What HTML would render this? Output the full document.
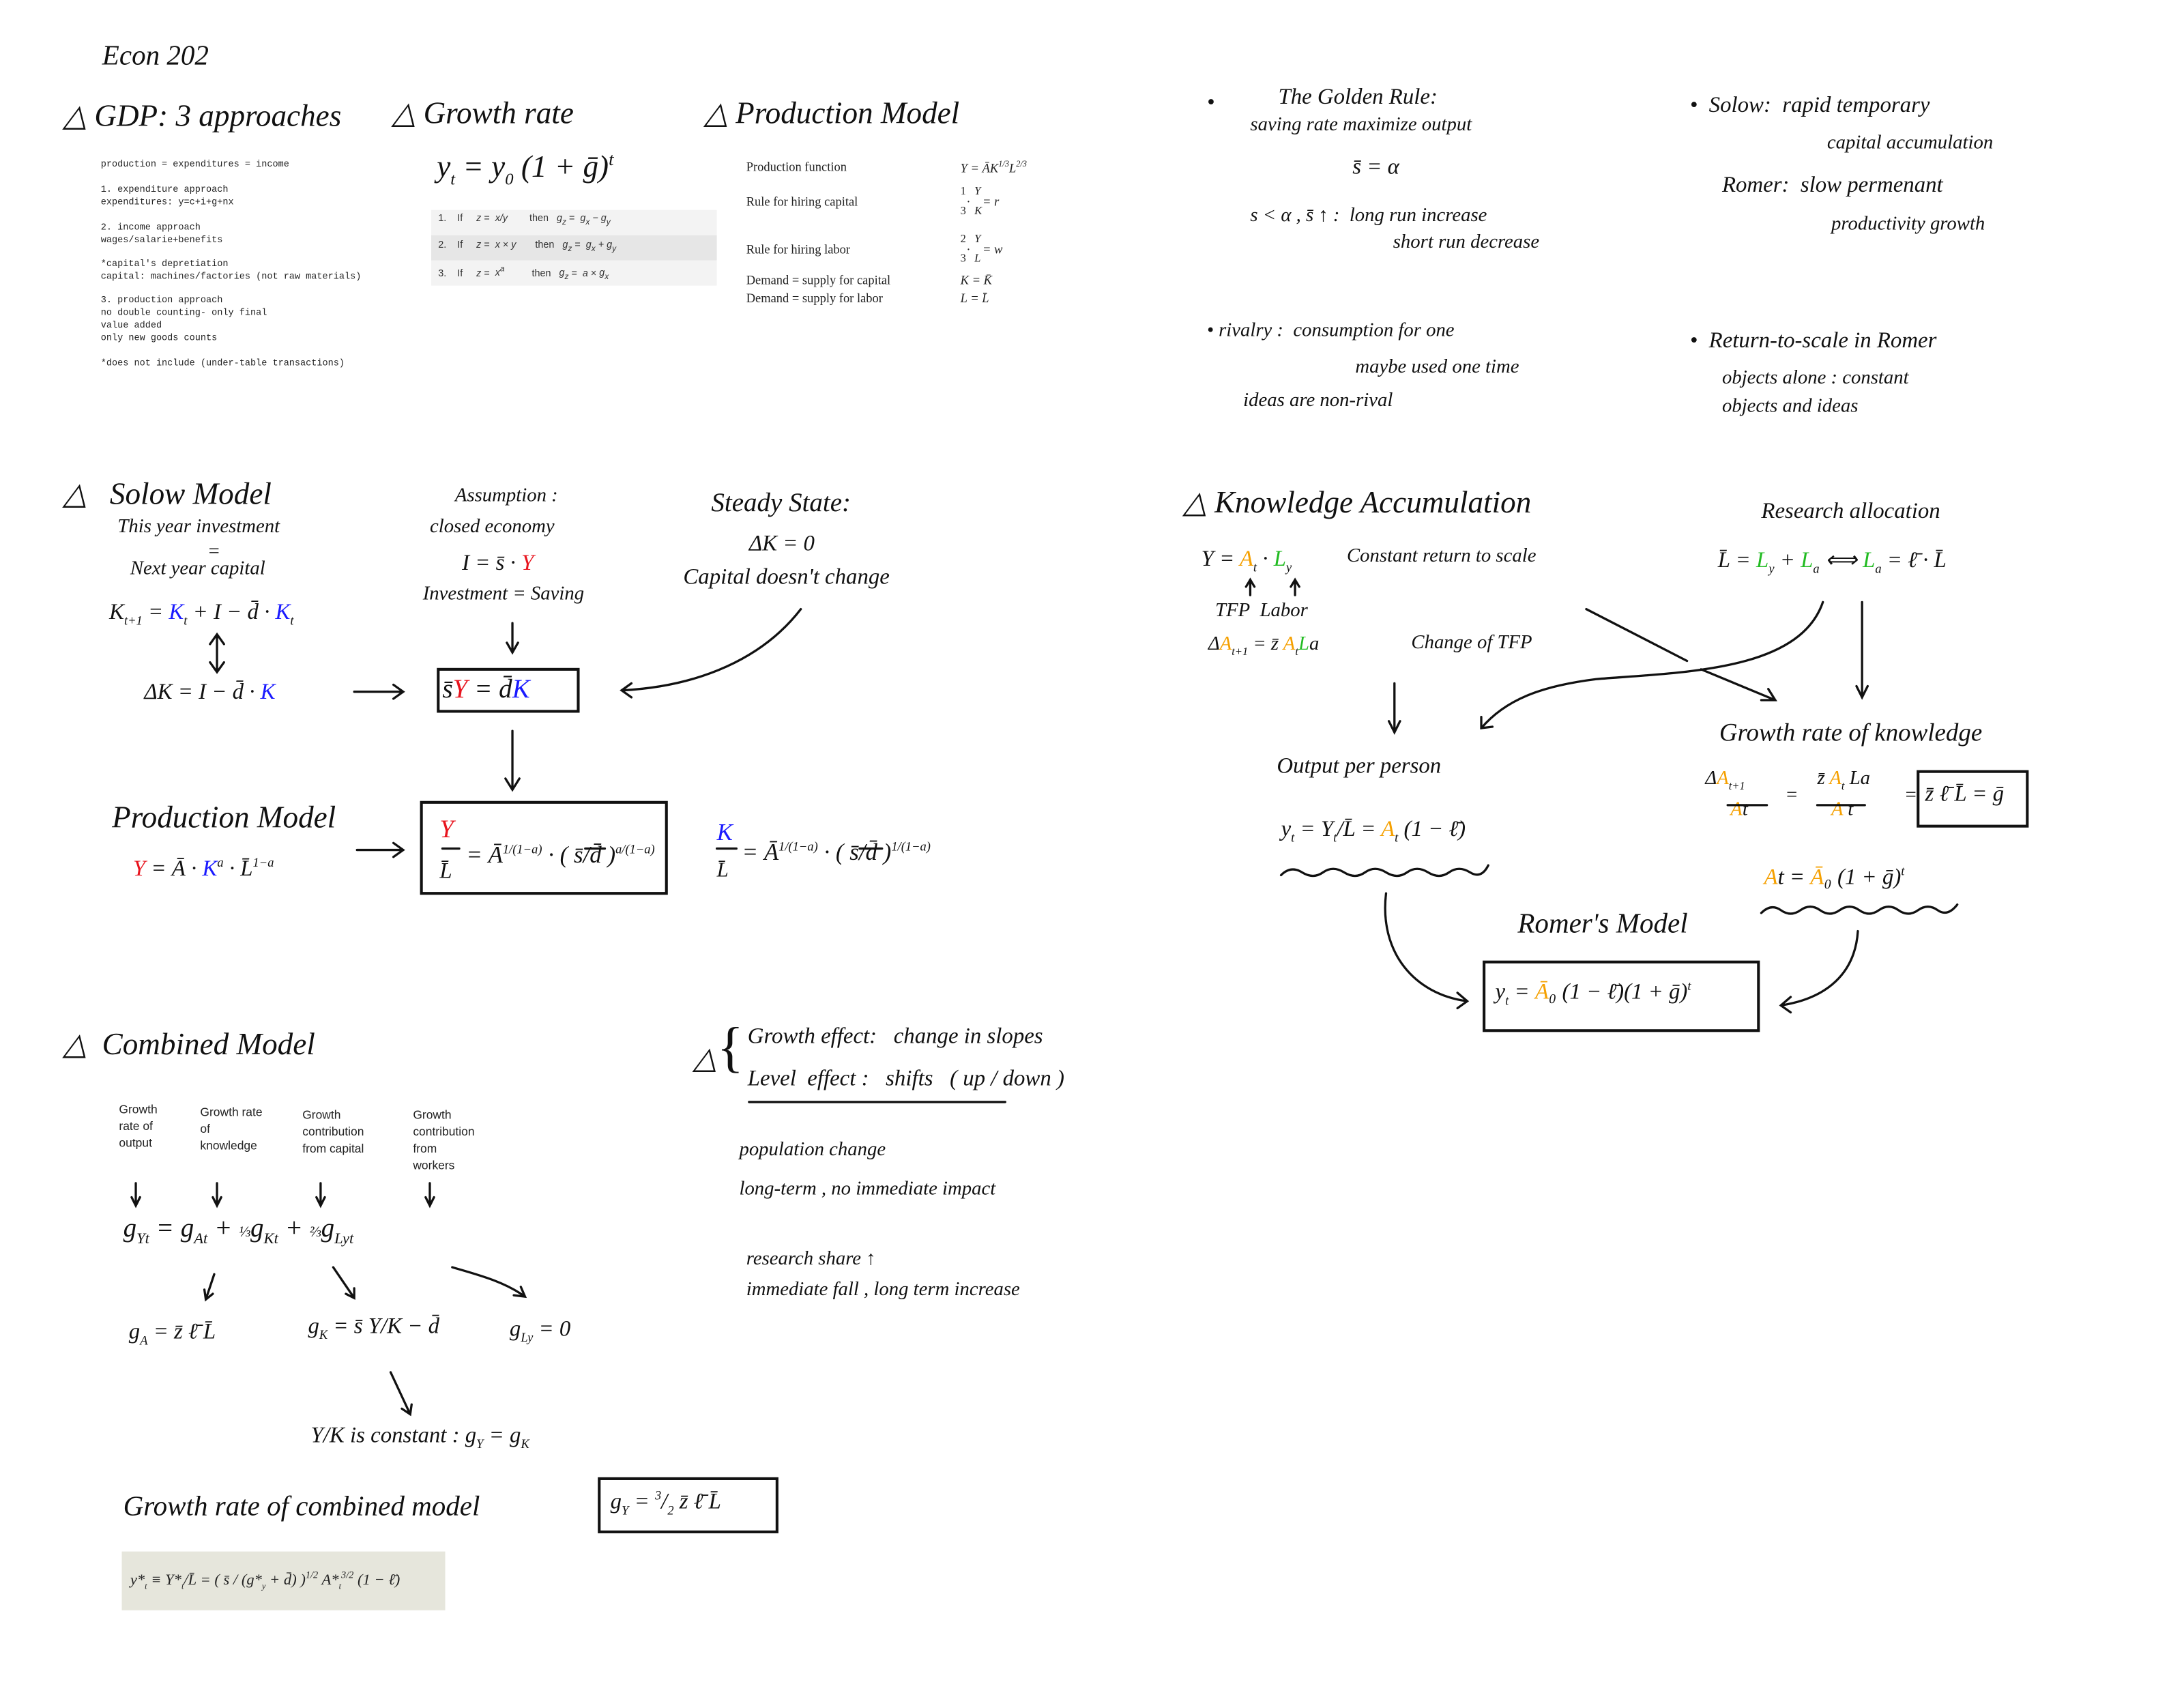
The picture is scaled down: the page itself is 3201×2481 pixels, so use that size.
<!DOCTYPE html>
<html><head><meta charset="utf-8">
<style>
html,body{margin:0;padding:0;background:#fff;}
body{width:3201px;height:2480px;overflow:hidden;position:relative;}
#c{position:absolute;left:0;top:0;width:1560px;height:1209px;transform:scale(2.052);transform-origin:0 0;}
.t{position:absolute;white-space:nowrap;font-family:"Liberation Serif",serif;font-style:italic;color:#111;line-height:1;}
.h{font-size:22px;}
.m{font-size:16px;}
.s{font-size:14px;}
.mono{position:absolute;font-family:"Liberation Mono",monospace;font-size:6.6px;line-height:1;white-space:nowrap;color:#222;}
.sf{position:absolute;font-family:"Liberation Serif",serif;font-size:9px;line-height:1;white-space:nowrap;color:#222;}
.ss{position:absolute;font-family:"Liberation Sans",sans-serif;font-size:8.5px;line-height:12px;color:#222;}
.r{color:#e8141e}.b{color:#1a1aff}.o{color:#f5a000}.g{color:#22bb22}
svg{position:absolute;left:0;top:0;}
.tb{position:absolute;font-family:"Liberation Sans",sans-serif;font-size:7px;color:#333;white-space:nowrap;}
</style></head><body><div id="c">

<div class="t h" style="left:73px;top:30px;font-size:20px">Econ 202</div>
<div class="t h" style="left:45px;top:72px">△ GDP: 3 approaches</div>
<div class="t h" style="left:280px;top:70px">△ Growth rate</div>
<div class="t h" style="left:503px;top:70px">△ Production Model</div>

<div class="mono" style="left:72px;top:115px">production = expenditures = income</div>
<div class="mono" style="left:72px;top:133px">1. expenditure approach</div>
<div class="mono" style="left:72px;top:142px">expenditures: y=c+i+g+nx</div>
<div class="mono" style="left:72px;top:160px">2. income approach</div>
<div class="mono" style="left:72px;top:169px">wages/salarie+benefits</div>
<div class="mono" style="left:72px;top:186px">*capital's depretiation</div>
<div class="mono" style="left:72px;top:195px">capital: machines/factories (not raw materials)</div>
<div class="mono" style="left:72px;top:212px">3. production approach</div>
<div class="mono" style="left:72px;top:221px">no double counting- only final</div>
<div class="mono" style="left:72px;top:230px">value added</div>
<div class="mono" style="left:72px;top:239px">only new goods counts</div>
<div class="mono" style="left:72px;top:257px">*does not include (under-table transactions)</div>

<div class="t" style="left:312px;top:107px;font-size:22px">y<sub style="font-size:12px">t</sub> = y<sub style="font-size:12px">0</sub> (1 + ḡ)<sup style="font-size:13px">t</sup></div>
<div style="position:absolute;left:308px;top:150px;width:204px;height:18px;background:#f3f3f3"></div>
<div style="position:absolute;left:308px;top:168px;width:204px;height:18px;background:#e6e6e6"></div>
<div style="position:absolute;left:308px;top:186px;width:204px;height:18px;background:#f3f3f3"></div>
<div class="tb" style="left:313px;top:153px">1.&nbsp;&nbsp;&nbsp;&nbsp;If&nbsp;&nbsp;&nbsp;&nbsp;&nbsp;<i>z</i> =&nbsp;&nbsp;<i>x/y</i>&nbsp;&nbsp;&nbsp;&nbsp;&nbsp;&nbsp;&nbsp;&nbsp;then&nbsp;&nbsp;&nbsp;<i>g<sub>z</sub></i> =&nbsp;&nbsp;<i>g<sub>x</sub> − g<sub>y</sub></i></div>
<div class="tb" style="left:313px;top:172px">2.&nbsp;&nbsp;&nbsp;&nbsp;If&nbsp;&nbsp;&nbsp;&nbsp;&nbsp;<i>z</i> =&nbsp;&nbsp;<i>x</i> × <i>y</i>&nbsp;&nbsp;&nbsp;&nbsp;&nbsp;&nbsp;&nbsp;then&nbsp;&nbsp;&nbsp;<i>g<sub>z</sub></i> =&nbsp;&nbsp;<i>g<sub>x</sub> + g<sub>y</sub></i></div>
<div class="tb" style="left:313px;top:190px">3.&nbsp;&nbsp;&nbsp;&nbsp;If&nbsp;&nbsp;&nbsp;&nbsp;&nbsp;<i>z</i> =&nbsp;&nbsp;<i>x<sup>a</sup></i>&nbsp;&nbsp;&nbsp;&nbsp;&nbsp;&nbsp;&nbsp;&nbsp;&nbsp;&nbsp;then&nbsp;&nbsp;&nbsp;<i>g<sub>z</sub></i> =&nbsp;&nbsp;<i>a</i> × <i>g<sub>x</sub></i></div>

<div class="sf" style="left:533px;top:115px">Production function</div>
<div class="sf" style="left:533px;top:140px">Rule for hiring capital</div>
<div class="sf" style="left:533px;top:174px">Rule for hiring labor</div>
<div class="sf" style="left:533px;top:196px">Demand = supply for capital</div>
<div class="sf" style="left:533px;top:209px">Demand = supply for labor</div>
<div class="sf" style="left:686px;top:115px;font-style:italic">Y = ĀK<sup style="font-size:6px">1/3</sup>L<sup style="font-size:6px">2/3</sup></div>
<div class="sf" style="left:686px;top:133px;font-size:8px">1&nbsp;&nbsp;&nbsp;<i>Y</i></div>
<div class="sf" style="left:686px;top:140px;font-style:italic">&nbsp;&nbsp;·&nbsp;&nbsp;&nbsp;&nbsp;= r</div>
<div class="sf" style="left:686px;top:147px;font-size:8px">3&nbsp;&nbsp;&nbsp;<i>K</i></div>
<div class="sf" style="left:686px;top:167px;font-size:8px">2&nbsp;&nbsp;&nbsp;<i>Y</i></div>
<div class="sf" style="left:686px;top:174px;font-style:italic">&nbsp;&nbsp;·&nbsp;&nbsp;&nbsp;&nbsp;= w</div>
<div class="sf" style="left:686px;top:181px;font-size:8px">3&nbsp;&nbsp;&nbsp;<i>L</i></div>
<div class="sf" style="left:686px;top:196px;font-style:italic">K = K̄</div>
<div class="sf" style="left:686px;top:209px;font-style:italic">L = L̄</div>

<div class="t m" style="left:862px;top:66px">•</div>
<div class="t m" style="left:913px;top:62px">The Golden Rule:</div>
<div class="t s" style="left:893px;top:83px">saving rate maximize output</div>
<div class="t m" style="left:966px;top:112px">s̄ = α</div>
<div class="t s" style="left:893px;top:148px">s &lt; α , s̄ ↑ :&nbsp;&nbsp;long run increase</div>
<div class="t s" style="left:995px;top:167px">short run decrease</div>
<div class="t s" style="left:862px;top:230px">• rivalry :&nbsp;&nbsp;consumption for one</div>
<div class="t s" style="left:968px;top:256px">maybe used one time</div>
<div class="t s" style="left:888px;top:280px">ideas are non-rival</div>

<div class="t m" style="left:1207px;top:68px">•&nbsp;&nbsp;Solow:&nbsp;&nbsp;rapid temporary</div>
<div class="t s" style="left:1305px;top:96px">capital accumulation</div>
<div class="t m" style="left:1230px;top:125px">Romer:&nbsp;&nbsp;slow permenant</div>
<div class="t s" style="left:1308px;top:154px">productivity growth</div>
<div class="t m" style="left:1207px;top:236px">•&nbsp;&nbsp;Return-to-scale in Romer</div>
<div class="t s" style="left:1230px;top:264px">objects alone : constant</div>
<div class="t s" style="left:1230px;top:284px">objects and ideas</div>

<!-- Solow -->
<div class="t h" style="left:45px;top:342px">△&nbsp;&nbsp;&nbsp;Solow Model</div>
<div class="t s" style="left:84px;top:370px">This year investment</div>
<div class="t s" style="left:148px;top:388px">=</div>
<div class="t s" style="left:93px;top:400px">Next year capital</div>
<div class="t m" style="left:78px;top:430px">K<sub style="font-size:9px">t+1</sub> = <span class="b">K</span><sub style="font-size:9px">t</sub> + I − d̄ · <span class="b">K</span><sub style="font-size:9px">t</sub></div>
<div class="t m" style="left:103px;top:487px">ΔK = I − d̄ · <span class="b">K</span></div>
<div class="t s" style="left:325px;top:348px">Assumption :</div>
<div class="t s" style="left:307px;top:370px">closed economy</div>
<div class="t m" style="left:330px;top:395px">I = s̄ · <span class="r">Y</span></div>
<div class="t s" style="left:302px;top:418px">Investment = Saving</div>
<div class="t h" style="left:508px;top:350px;font-size:19px">Steady State:</div>
<div class="t m" style="left:535px;top:381px">ΔK = 0</div>
<div class="t m" style="left:488px;top:405px">Capital doesn't change</div>
<div class="t m" style="left:316px;top:483px;font-size:19px">s̄<span class="r">Y</span> = d̄<span class="b">K</span></div>

<div class="t h" style="left:80px;top:573px">Production Model</div>
<div class="t m" style="left:95px;top:612px"><span class="r">Y</span> = Ā · <span class="b">K</span><sup style="font-size:9px">a</sup> · L̄<sup style="font-size:9px">1−a</sup></div>
<div class="t m" style="left:314px;top:583px;font-size:18px"><span class="r">Y</span></div>
<div class="t m" style="left:314px;top:615px;font-size:16px">L̄</div>
<div class="t m" style="left:333px;top:602px;font-size:17px">= Ā<sup style="font-size:9px">1/(1−a)</sup> · ( s̄/d̄ )<sup style="font-size:9px">a/(1−a)</sup></div>
<div class="t m" style="left:512px;top:586px;font-size:17px"><span class="b">K</span></div>
<div class="t m" style="left:512px;top:615px;font-size:15px">L̄</div>
<div class="t m" style="left:530px;top:600px;font-size:17px">= Ā<sup style="font-size:9px">1/(1−a)</sup> · ( s̄/d̄ )<sup style="font-size:9px">1/(1−a)</sup></div>

<!-- Knowledge -->
<div class="t h" style="left:845px;top:348px">△ Knowledge Accumulation</div>
<div class="t m" style="left:858px;top:392px">Y = <span class="o">A</span><sub style="font-size:9px">t</sub> · <span class="g">L</span><sub style="font-size:9px">y</sub></div>
<div class="t s" style="left:962px;top:391px">Constant return to scale</div>
<div class="t s" style="left:868px;top:430px">TFP&nbsp;&nbsp;Labor</div>
<div class="t s" style="left:863px;top:454px">Δ<span class="o">A</span><sub style="font-size:8px">t+1</sub> = z̄ <span class="o">A</span><sub style="font-size:8px">t</sub><span class="g">L</span>a</div>
<div class="t s" style="left:1008px;top:453px">Change of TFP</div>
<div class="t m" style="left:1258px;top:358px">Research allocation</div>
<div class="t m" style="left:1227px;top:393px">L̄ = <span class="g">L</span><sub style="font-size:9px">y</sub> + <span class="g">L</span><sub style="font-size:9px">a</sub> ⟺ <span class="g">L</span><sub style="font-size:9px">a</sub> = ℓ̄ · L̄</div>
<div class="t m" style="left:1228px;top:514px;font-size:18px">Growth rate of knowledge</div>
<div class="t m" style="left:912px;top:540px">Output per person</div>
<div class="t m" style="left:915px;top:585px">y<sub style="font-size:9px">t</sub> = Y<sub style="font-size:9px">t</sub>/L̄ = <span class="o">A</span><sub style="font-size:9px">t</sub> (1 − ℓ̄)</div>
<div class="t s" style="left:1218px;top:550px">Δ<span class="o">A</span><sub style="font-size:8px">t+1</sub></div>
<div class="t s" style="left:1236px;top:572px"><span class="o">A</span>t</div>
<div class="t s" style="left:1275px;top:562px">=</div>
<div class="t s" style="left:1298px;top:550px">z̄ <span class="o">A</span><sub style="font-size:8px">t</sub> La</div>
<div class="t s" style="left:1308px;top:572px"><span class="o">A</span> t</div>
<div class="t s" style="left:1360px;top:562px">=</div>
<div class="t m" style="left:1375px;top:560px">z̄ ℓ̄ L̄ = ḡ</div>
<div class="t m" style="left:1260px;top:618px"><span class="o">A</span>t = <span class="o">Ā</span>₀ (1 + ḡ)<sup style="font-size:9px">t</sup></div>
<div class="t h" style="left:1084px;top:650px;font-size:20px">Romer's Model</div>
<div class="t m" style="left:1068px;top:700px">y<sub style="font-size:9px">t</sub> = <span class="o">Ā</span>₀ (1 − ℓ̄)(1 + ḡ)<sup style="font-size:9px">t</sup></div>

<!-- Combined -->
<div class="t h" style="left:45px;top:735px">△&nbsp;&nbsp;Combined Model</div>
<div class="ss" style="left:85px;top:786px">Growth<br>rate of<br>output</div>
<div class="ss" style="left:143px;top:788px">Growth rate<br>of<br>knowledge</div>
<div class="ss" style="left:216px;top:790px">Growth<br>contribution<br>from capital</div>
<div class="ss" style="left:295px;top:790px">Growth<br>contribution<br>from<br>workers</div>
<div class="t" style="left:88px;top:868px;font-size:19px">g<sub style="font-size:11px">Yt</sub> = g<sub style="font-size:11px">At</sub> + <span style="font-size:11px">⅓</span>g<sub style="font-size:11px">Kt</sub> + <span style="font-size:11px">⅔</span>g<sub style="font-size:11px">Lyt</sub></div>
<div class="t m" style="left:92px;top:944px">g<sub style="font-size:9px">A</sub> = z̄ ℓ̄ L̄</div>
<div class="t m" style="left:220px;top:940px">g<sub style="font-size:9px">K</sub> = s̄ Y/K − d̄</div>
<div class="t m" style="left:364px;top:942px">g<sub style="font-size:9px">Ly</sub> = 0</div>
<div class="t m" style="left:222px;top:1018px">Y/K is constant : g<sub style="font-size:9px">Y</sub> = g<sub style="font-size:9px">K</sub></div>
<div class="t h" style="left:88px;top:1066px;font-size:20px">Growth rate of combined model</div>
<div class="t m" style="left:436px;top:1064px">g<sub style="font-size:9px">Y</sub> = <sup style="font-size:9px">3</sup>/<sub style="font-size:9px">2</sub> z̄ ℓ̄ L̄</div>
<div style="position:absolute;left:87px;top:1108px;width:231px;height:42px;background:#e6e6dc"></div>
<div class="sf" style="left:93px;top:1122px;font-size:11px;font-style:italic">y*<sub style="font-size:6px">t</sub> ≡ Y*<sub style="font-size:6px">t</sub>/L̄ = ( s̄ / (g*<sub style="font-size:6px">y</sub> + d̄) )<sup style="font-size:7px">1/2</sup> A*<sub style="font-size:6px">t</sub><sup style="font-size:7px">3/2</sup> (1 − ℓ̄)</div>

<div class="t h" style="left:495px;top:745px">△</div>
<div class="t" style="left:512px;top:728px;font-size:40px;font-style:normal">{</div>
<div class="t m" style="left:534px;top:733px">Growth effect:&nbsp;&nbsp;&nbsp;change in slopes</div>
<div class="t m" style="left:534px;top:763px">Level&nbsp;&nbsp;effect :&nbsp;&nbsp;&nbsp;shifts&nbsp;&nbsp;&nbsp;( up / down )</div>
<div class="t s" style="left:528px;top:815px">population change</div>
<div class="t s" style="left:528px;top:843px">long-term , no immediate impact</div>
<div class="t s" style="left:533px;top:893px">research share ↑</div>
<div class="t s" style="left:533px;top:915px">immediate fall , long term increase</div>

<svg width="1560" height="1209" viewBox="0 0 1560 1209" fill="none" stroke="#111" stroke-width="1.6" stroke-linecap="round">
<!-- Solow -->
<path d="M155 455 V478 M150 460 L155 453 L160 460 M150 473 L155 480 L160 473"/>
<path d="M253 494 H287 M281 489 L288 494 L281 499"/>
<path d="M366 445 V465 M362 459 L366 466 L370 459"/>
<path d="M572 435 C545 470 500 490 445 493 M451 488 L444 493 L451 498"/>
<rect x="313" y="478" width="100" height="30" stroke-width="2"/>
<path d="M366 522 V563 M361 556 L366 564 L371 556"/>
<rect x="301" y="573" width="175" height="65" stroke-width="2"/>
<path d="M255 607 H287 M281 602 L288 607 L281 612"/>
<path d="M316 606 H328 M512 606 H526 M418 606 H432 M614 606 H630"/>
<!-- Knowledge -->
<path d="M893 425 V415 M890 419 L893 414 L896 419 M925 425 V415 M922 419 L925 414 L928 419"/>
<path d="M996 488 V522 M992 515 L996 523 L1000 515"/>
<path d="M1133 435 L1205 472 M1215 478 L1268 500 M1258 500 L1268 500 L1263 492"/>
<path d="M1302 430 C1285 480 1200 480 1140 485 C1100 490 1075 500 1058 520 M1058 512 L1058 520 L1066 519"/>
<path d="M1330 430 V497 M1326 490 L1330 498 L1334 490"/>
<rect x="1370" y="551" width="78" height="39" stroke-width="2"/>
<path d="M1234 575 H1262 M1298 575 H1332"/>
<path d="M915 625 Q922 618 930 623 T945 623 T960 623 T975 623 T990 623 T1005 623 T1020 623 T1035 623 T1050 623 T1063 618"/>
<path d="M1258 652 Q1265 645 1272 650 T1286 650 T1300 650 T1314 650 T1328 650 T1342 650 T1356 650 T1370 650 T1384 650 T1398 646"/>
<path d="M990 638 C985 680 1010 710 1048 715 M1041 709 L1048 715 L1041 720"/>
<path d="M1327 665 C1325 695 1305 713 1272 718 M1279 712 L1272 718 L1279 723"/>
<rect x="1060" y="687" width="196" height="49" stroke-width="2"/>
<!-- Combined -->
<path d="M97 845 V860 M94 855 L97 861 L100 855 M155 845 V860 M152 855 L155 861 L158 855 M229 845 V860 M226 855 L229 861 L232 855 M307 845 V860 M304 855 L307 861 L310 855"/>
<path d="M153 910 L147 928 M146 921 L147 928 L152 924"/>
<path d="M238 905 L253 927 M247 924 L253 927 L253 920"/>
<path d="M323 905 C340 910 360 915 375 926 M367 925 L375 926 L372 919"/>
<path d="M279 980 L293 1010 M287 1006 L293 1010 L294 1003"/>
<rect x="428" y="1056" width="127" height="38" stroke-width="2"/>
<path d="M535 787 H718"/>
</svg>
</div></body></html>
